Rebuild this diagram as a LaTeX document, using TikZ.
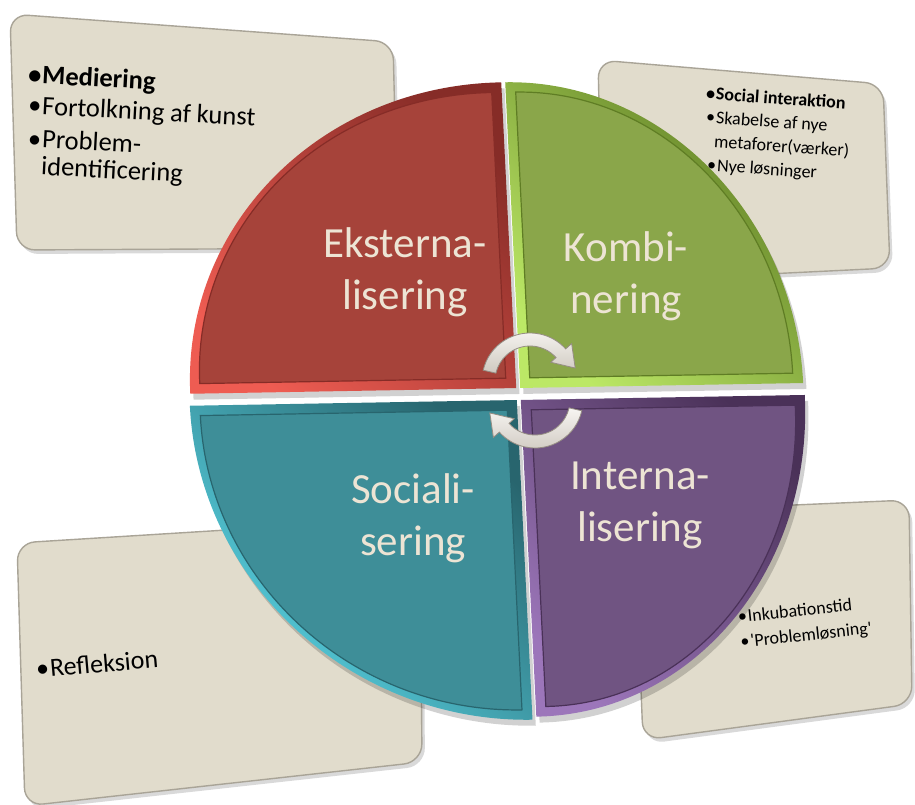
\documentclass[tikz,border=0pt]{standalone}
\usepackage{fontspec}
\setmainfont{Carlito}[Ligatures=TeXOff]
\usetikzlibrary{calc}
\definecolor{boxfill}{HTML}{E1DCCC}
\definecolor{boxline}{HTML}{A9A497}
\definecolor{lbl}{HTML}{EDE4D4}
\definecolor{redface}{HTML}{A6433A}
\definecolor{redlite}{HTML}{EE5C52}
\definecolor{reddark}{HTML}{862C27}
\definecolor{grnface}{HTML}{8AA64A}
\definecolor{grnlite}{HTML}{BCE866}
\definecolor{grndark}{HTML}{5F7D24}
\definecolor{tealface}{HTML}{3E8E98}
\definecolor{teallite}{HTML}{5AD8E8}
\definecolor{tealdark}{HTML}{28656E}
\definecolor{purface}{HTML}{705482}
\definecolor{purlite}{HTML}{9C76BA}
\definecolor{purdark}{HTML}{4A3158}
\definecolor{arrtop}{HTML}{F7F5F2}
\definecolor{arrbot}{HTML}{CFC9C0}
\definecolor{arrline}{HTML}{958D83}
\newcommand{\qRed}[1]{(-2-#1,6+#1) -- (-328+#1,6+#1) arc[start angle=180,end angle=90,x radius={326-2*#1},y radius={306-2*#1}] -- cycle}
\newcommand{\qGrn}[1]{(2+#1,6+#1) -- (2+#1,312-#1) arc[start angle=90,end angle=0,x radius={283-2*#1},y radius={306-2*#1}] -- cycle}
\newcommand{\qTeal}[1]{(-2-#1,-6-#1) -- (-329+#1,-6-#1) arc[start angle=180,end angle=270,x radius={327-2*#1},y radius={320-2*#1}] -- cycle}
\newcommand{\qPur}[1]{(2+#1,-6-#1) -- (286-#1,-6-#1) arc[start angle=0,end angle=-90,x radius={284-2*#1},y radius={317-2*#1}] -- cycle}
\newcommand{\bul}{•\kern1pt}
\begin{document}
\begin{tikzpicture}[x=1pt,y=1pt,
  infobox/.style={fill=boxfill, draw=boxline, line width=1.4pt, rounded corners=18pt},
  boxshadow/.style={fill=black, opacity=0.15, rounded corners=18pt},
  boxtext/.style={inner sep=0pt, align=left, text=black},
  tltxt/.style={boxtext, anchor=west, rotate=-3, font=\fontsize{26.5}{32}\selectfont},
  trtxt/.style={boxtext, anchor=west, rotate=-4, font=\fontsize{18}{24.5}\selectfont},
  qshadow/.style={fill=black, opacity=0.18},
  qlabel/.style={text=lbl, align=center, font=\fontsize{43}{52}\selectfont, inner sep=0pt},
  cyclearrow/.style={top color=arrtop, bottom color=arrbot, draw=arrline, line width=0.8pt},
  ]
\fill[white] (0,0) rectangle (915,-805);
\useasboundingbox (0,0) rectangle (915,-805);
% ---- info boxes ----
\begin{scope}[shift={(3,-4)}]
 \fill[boxshadow] (10,-14) -- (393,-42) -- (398,-248) -- (17,-250) -- cycle;
 \fill[boxshadow] (598,-60) -- (883,-84) -- (890,-268) -- (603,-282) -- cycle;
 \fill[boxshadow] (17,-543) -- (420,-518) -- (422,-762) -- (25,-806) -- cycle;
 \fill[boxshadow] (634,-512) -- (909,-500) -- (912,-704) -- (643,-740) -- cycle;
\end{scope}
\path[infobox] (10,-14) -- (393,-42) -- (398,-248) -- (17,-250) -- cycle;
\path[infobox] (598,-60) -- (883,-84) -- (890,-268) -- (603,-282) -- cycle;
\path[infobox] (17,-543) -- (420,-518) -- (422,-762) -- (25,-806) -- cycle;
\path[infobox] (634,-512) -- (909,-500) -- (912,-704) -- (643,-740) -- cycle;
\node[tltxt] (tl1) at (28,-76) {\textbf{\bul Mediering}};
\node[tltxt] (tl2) at (28,-107) {\bul Fortolkning af kunst};
\node[tltxt] (tl3) at (28,-138) {\bul Problem-};
\node[tltxt] (tl4) at (41,-168) {identificering};
\node[trtxt] (tr1) at (706,-93) {\textbf{\bul Social interaktion}};
\node[trtxt] (tr2) at (706,-118) {\bul Skabelse af nye};
\node[trtxt] (tr3) at (714,-142) {metaforer(værker)};
\node[trtxt] (tr4) at (707,-166) {\bul Nye løsninger};
\node[boxtext, anchor=north west, rotate=6, font=\fontsize{18}{25}\selectfont] (brtext) at (737,-610)
  {\bul Inkubationstid\\\bul 'Problemløsning'};
\node[boxtext, anchor=west, rotate=5, font=\fontsize{26}{30}\selectfont] (bltext) at (36,-669)
  {\bul Refleksion};
% ---- quadrants ----
\begin{scope}[cm={0.9998,0.0175,-0.049,0.999,(518.5,-394)}]
 \begin{scope}[shift={(3,-6)}]
  \fill[qshadow] \qRed{0};
  \fill[qshadow] \qGrn{0};
  \fill[qshadow] \qTeal{0};
  \fill[qshadow] \qPur{0};
 \end{scope}
 \shade[top color=reddark, bottom color=redlite, shading angle=-45] \qRed{0};
 \shade[top color=grndark, bottom color=grnlite, shading angle=-45] \qGrn{0};
 \shade[top color=tealdark, bottom color=teallite, shading angle=-45] \qTeal{0};
 \shade[top color=purdark, bottom color=purlite, shading angle=-45] \qPur{0};
 \filldraw[fill=redface, draw=reddark, line width=1.2pt] \qRed{10};
 \filldraw[fill=grnface, draw=grndark, line width=1.2pt] \qGrn{10};
 \filldraw[fill=tealface, draw=tealdark, line width=1.2pt] \qTeal{10};
 \filldraw[fill=purface, draw=purdark, line width=1.2pt] \qPur{10};
\end{scope}
\node[qlabel] (ekst) at (405,-272) {Eksterna-\\lisering};
\node[qlabel] (komb) at (626,-276) {Kombi-\\nering};
\node[qlabel] (soci) at (413,-518) {Sociali-\\sering};
\node[qlabel] (inte) at (640,-505) {Interna-\\lisering};
% ---- cycle arrows ----
\coordinate (o1) at (530,-381);
\coordinate (o2) at (535,-400);
\path[cyclearrow] ($(o1)+(167:48)$) arc[start angle=167, end angle=42, radius=48]
  -- ($(o1)+(42:56)$) -- ($(o1)+(16:47)$) -- ($(o1)+(42:28)$) -- ($(o1)+(42:35)$)
  arc[start angle=42, end angle=167, radius=35] -- cycle;
\path[cyclearrow] ($(o2)+(-13:48)$) arc[start angle=-13, end angle=-138, radius=48]
  -- ($(o2)+(-138:56)$) -- ($(o2)+(-164:47)$) -- ($(o2)+(-138:28)$) -- ($(o2)+(-138:35)$)
  arc[start angle=-138, end angle=-13, radius=35] -- cycle;
\end{tikzpicture}
\end{document}
